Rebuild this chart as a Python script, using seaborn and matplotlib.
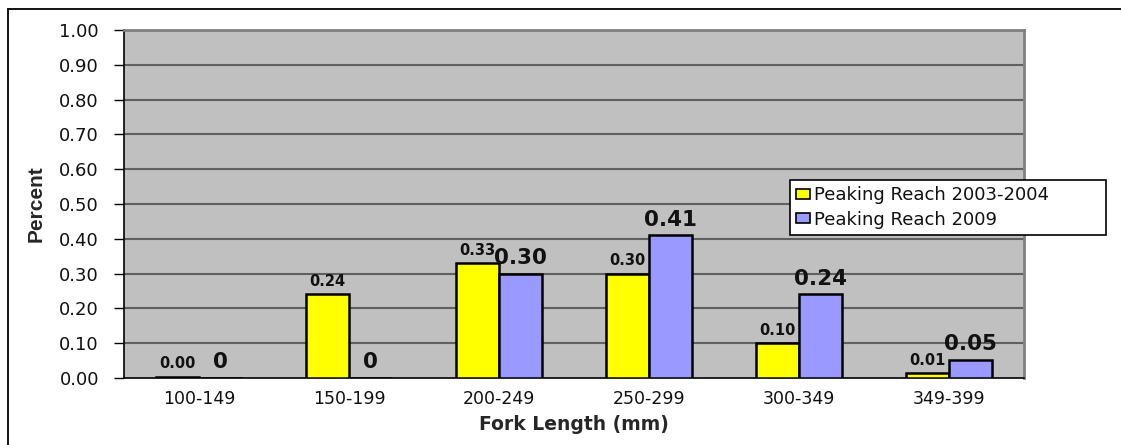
import matplotlib
matplotlib.use("Agg")
import matplotlib.pyplot as plt
from matplotlib.lines import Line2D
from matplotlib.patches import Patch
import seaborn as sns
import pandas as pd
import numpy as np

categories = ["100-149", "150-199", "200-249", "250-299", "300-349", "349-399"]
series_names = ["Peaking Reach 2003-2004", "Peaking Reach 2009"]
reach_2003_2004 = [0.004, 0.24, 0.33, 0.30, 0.10, 0.013]
reach_2009 = [0.0, 0.0, 0.30, 0.41, 0.24, 0.052]
y_ticks = [0.0, 0.1, 0.2, 0.3, 0.4, 0.5, 0.6, 0.7, 0.8, 0.9, 1.0]

df = pd.DataFrame({
    "Fork Length (mm)": categories * 2,
    "Percent": reach_2003_2004 + reach_2009,
    "Series": [series_names[0]] * len(categories) + [series_names[1]] * len(categories),
})

sns.set_style("white")
plt.rcParams["font.family"] = ["DejaVu Sans"]

colors = ["#FFFF00", "#9999FF"]
fig = plt.figure(figsize=(11.21, 4.45), dpi=100)
ax = fig.add_axes([0.1106, 0.1506, 0.8029, 0.782])
ax.set_facecolor("#C0C0C0")

sns.barplot(data=df, x="Fork Length (mm)", y="Percent", hue="Series",
            palette=colors, saturation=1, width=0.57, edgecolor="black",
            linewidth=1.8, ax=ax, legend=False, zorder=3)

ax.set_ylim(0, 1.0)
ax.set_xlim(-0.5, len(categories) - 0.5)
ax.set_yticks(y_ticks)
ax.set_yticklabels([f"{v:.2f}" for v in y_ticks], fontsize=13, color="#111111")
for v in y_ticks[1:-1]:
    ax.axhline(v, color="#606060", lw=1.5, zorder=1)

ax.set_xticks(range(len(categories)))
ax.set_xticklabels(categories, fontsize=12.5, color="#111111")
ax.set_xticks(np.arange(-0.5, len(categories)), minor=True)
ax.tick_params(axis="x", which="major", length=0, pad=9)
ax.tick_params(axis="x", which="minor", length=6, width=1, color="black", direction="out")
ax.tick_params(axis="y", length=7, width=1, color="black", direction="out", pad=11, left=True)

for side in ["top", "right"]:
    ax.spines[side].set_color("#808080")
    ax.spines[side].set_linewidth(2)
ax.spines["left"].set_color("black")
ax.spines["left"].set_linewidth(1.2)
ax.spines["bottom"].set_color("black")
ax.spines["bottom"].set_linewidth(1.2)

ax.set_xlabel("Fork Length (mm)", fontsize=13.5, fontweight="bold", labelpad=5)
ylab = ax.set_ylabel("Percent", fontsize=15, fontweight="bold", labelpad=10)
ylab.set_fontfamily(["Liberation Sans", "DejaVu Sans"])

# value labels above each bar
containers = ax.containers
ax.bar_label(containers[0], labels=[f"{v:.2f}" for v in reach_2003_2004],
             fontsize=10.5, fontweight="bold", padding=4, zorder=5, color="#111111")
ax.bar_label(containers[1], labels=[f"{v:.2f}" if v > 0 else "0" for v in reach_2009],
             fontsize=15.5, fontweight="bold", padding=4, zorder=5, color="#111111")

handles = [Patch(facecolor=c, edgecolor="black", linewidth=1.2) for c in colors]
leg = ax.legend(handles, series_names, loc="upper left",
                bbox_to_anchor=(0.74, 0.402, 0.351, 0.167), mode="expand",
                fontsize=13, frameon=True, fancybox=False, framealpha=1,
                edgecolor="black", handlelength=0.75, handleheight=0.5,
                handletextpad=0.25, borderpad=0.35, labelspacing=0.35,
                borderaxespad=0)
leg.get_frame().set_linewidth(1.2)
leg.set_zorder(10)
for t in leg.get_texts():
    t.set_color("#111111")

# outer chart frame
fig.add_artist(Line2D([8 / 1121, 8 / 1121], [0, 1 - 9 / 445],
                      transform=fig.transFigure, color="black", lw=1.3))
fig.add_artist(Line2D([8 / 1121, 1.0], [1 - 9 / 445, 1 - 9 / 445],
                      transform=fig.transFigure, color="black", lw=1.3))

fig.savefig("out.png", dpi=100, facecolor="white")
